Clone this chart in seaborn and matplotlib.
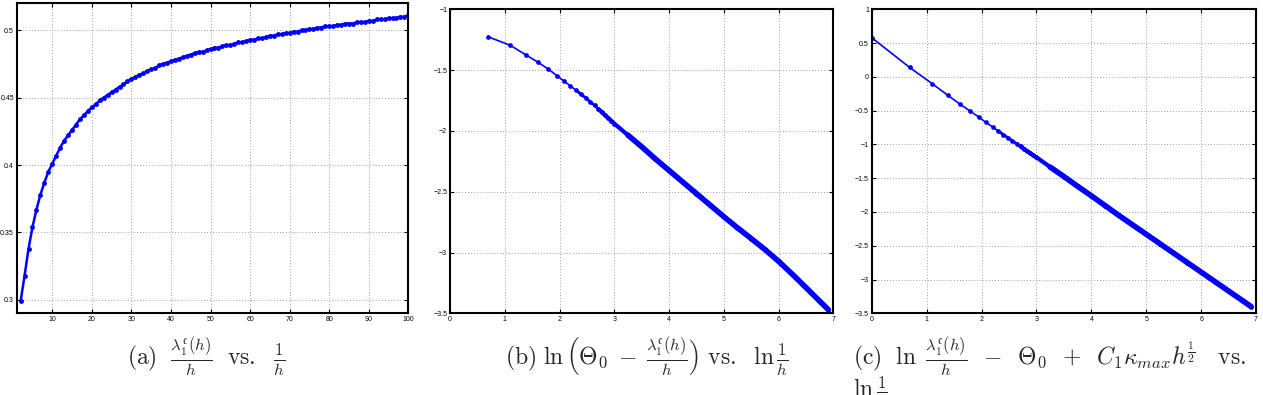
import numpy as np
import pandas as pd
import matplotlib
matplotlib.use("Agg")
from matplotlib import pyplot as plt
from matplotlib.ticker import FuncFormatter, MultipleLocator
import seaborn as sns

# (a) lambda_1^c(h)/h against 1/h
inv_h = list(range(2, 101))
lam_over_h = [0.299, 0.318, 0.338, 0.354, 0.367, 0.378, 0.387, 0.395, 0.401, 0.407,
              0.413, 0.418, 0.422, 0.426, 0.430, 0.434, 0.437, 0.440, 0.443, 0.445,
              0.448, 0.450, 0.452, 0.454, 0.456, 0.458, 0.460, 0.462, 0.464, 0.465,
              0.467, 0.468, 0.470, 0.471, 0.472, 0.474, 0.475, 0.476, 0.477, 0.478,
              0.479, 0.480, 0.481, 0.482, 0.483, 0.484, 0.484, 0.485, 0.486, 0.487,
              0.487, 0.488, 0.489, 0.489, 0.490, 0.491, 0.491, 0.492, 0.493, 0.493,
              0.494, 0.494, 0.495, 0.496, 0.496, 0.497, 0.497, 0.498, 0.498, 0.499,
              0.499, 0.500, 0.500, 0.501, 0.501, 0.502, 0.502, 0.503, 0.503, 0.503,
              0.504, 0.504, 0.505, 0.505, 0.505, 0.506, 0.506, 0.506, 0.507, 0.507,
              0.508, 0.508, 0.508, 0.509, 0.509, 0.509, 0.510, 0.510, 0.511]

# (b) ln(Theta_0 - lambda/h) against ln(1/h)
ln_inv_h = [0.69, 1.10, 1.39, 1.61, 1.79, 1.95, 2.08, 2.20, 2.30, 2.40,
            2.48, 2.56, 2.64, 2.71, 2.77, 2.83, 2.89, 2.94, 3.00, 3.25,
            3.50, 3.75, 4.00, 4.25, 4.50, 4.75, 5.00, 5.25, 5.50, 5.75,
            6.00, 6.25, 6.50, 6.75, 6.91]
ln_gap = [-1.225, -1.296, -1.376, -1.436, -1.490, -1.545, -1.590, -1.630, -1.665, -1.700,
          -1.730, -1.760, -1.790, -1.820, -1.845, -1.870, -1.895, -1.915, -1.940, -2.035,
          -2.130, -2.230, -2.325, -2.420, -2.515, -2.610, -2.705, -2.797, -2.885, -2.975,
          -3.072, -3.178, -3.288, -3.400, -3.470]

# (c) corrected quantity against ln(1/h)
ln_inv_h_c = [0.00] + ln_inv_h
ln_corr = [0.58, 0.14, -0.100, -0.275, -0.405, -0.505, -0.595, -0.675, -0.740, -0.800,
           -0.855, -0.900, -0.945, -0.990, -1.030, -1.065, -1.100, -1.130, -1.160, -1.190,
           -1.335, -1.475, -1.620, -1.760, -1.905, -2.050, -2.190, -2.330, -2.470, -2.610,
           -2.750, -2.890, -3.030, -3.170, -3.310, -3.400]

captions = [
    r"$(\mathrm{a})\ \ \frac{\lambda_1^{\mathfrak{c}}(h)}{h}\ \ \mathrm{vs.}\ \ \frac{1}{h}$",
    r"$(\mathrm{b})\ \ln\left(\Theta_0\;-\;\frac{\lambda_1^{\mathfrak{c}}(h)}{h}\right)\ \mathrm{vs.}\ \ \ln\frac{1}{h}$",
    r"$(\mathrm{c})\ \ \ln\ \frac{\lambda_1^{\mathfrak{c}}(h)}{h}\;\;-\;\;\Theta_0\;\;+\;\;C_1\kappa_{max}h^{\frac{1}{2}}\ \ \ \mathrm{vs.}$",
]

sns.set_theme(style="ticks")
plt.rcParams['font.family'] = ['Liberation Sans', 'DejaVu Sans']
plt.rcParams['mathtext.fontset'] = 'cm'

fig = plt.figure(figsize=(12.63, 3.95), dpi=100)
ax_a = fig.add_axes([0.0132, 0.2068, 0.3101, 0.7848])
ax_b = fig.add_axes([0.3563, 0.2068, 0.3035, 0.7696])
ax_c = fig.add_axes([0.6902, 0.2068, 0.3043, 0.7696])

fmt = FuncFormatter(lambda v, p: ("%g" % round(v, 4)).replace("-", "\u2212"))

def style(ax):
    ax.grid(True, linestyle=(0, (1, 2)), color='#a0a0a0', linewidth=0.7)
    ax.tick_params(direction='in', top=True, right=True, length=3, width=0.8,
                   labelsize=5, pad=2, colors='black')
    for s in ax.spines.values():
        s.set_linewidth(1.5)
        s.set_color('black')
    ax.set_xlabel("")
    ax.set_ylabel("")
    ax.xaxis.set_major_formatter(fmt)
    ax.yaxis.set_major_formatter(fmt)

### panel (a) ###
df_a = pd.DataFrame({'inv_h': inv_h, 'val': lam_over_h})
sns.lineplot(data=df_a, x='inv_h', y='val', ax=ax_a, color='blue', marker='o',
             markersize=3.5, markeredgewidth=0, linewidth=1.8, sort=False, estimator=None)
ax_a.set_xlim(1, 100)
ax_a.set_ylim(0.29, 0.52)
ax_a.xaxis.set_major_locator(MultipleLocator(10))
ax_a.yaxis.set_major_locator(MultipleLocator(0.05))
style(ax_a)

### panels (b) and (c) ###
for ax, xs, ys, ylim in [(ax_b, ln_inv_h, ln_gap, (-3.5, -1)),
                         (ax_c, ln_inv_h_c, ln_corr, (-3.5, 1))]:
    df = pd.DataFrame({'x': xs, 'y': ys})
    sns.lineplot(data=df, x='x', y='y', ax=ax, color='blue', marker='o',
                 markersize=3.4, markeredgewidth=0, linewidth=1.2, sort=False, estimator=None)
    # overlapping markers turn into a solid band where points get dense
    for start, lw in [(2.3, 2.0), (2.7, 3.0), (3.2, 4.0)]:
        sns.lineplot(data=df[df.x >= start], x='x', y='y', ax=ax, color='blue',
                     linewidth=lw, sort=False, estimator=None,
                     solid_capstyle='round')
    ax.set_xlim(0, 7)
    ax.set_ylim(*ylim)
    ax.xaxis.set_major_locator(MultipleLocator(1))
    ax.yaxis.set_major_locator(MultipleLocator(0.5))
    style(ax)

fig.text(0.163, 0.096, captions[0], fontsize=17, ha='center', va='center')
fig.text(0.512, 0.096, captions[1], fontsize=17, ha='center', va='center')
fig.text(0.675, 0.096, captions[2], fontsize=17, ha='left', va='center')
fig.text(0.675, 0.004, r"$\ln\frac{1}{h}$", fontsize=17, ha='left', va='center')

fig.savefig("out.png", dpi=100)
